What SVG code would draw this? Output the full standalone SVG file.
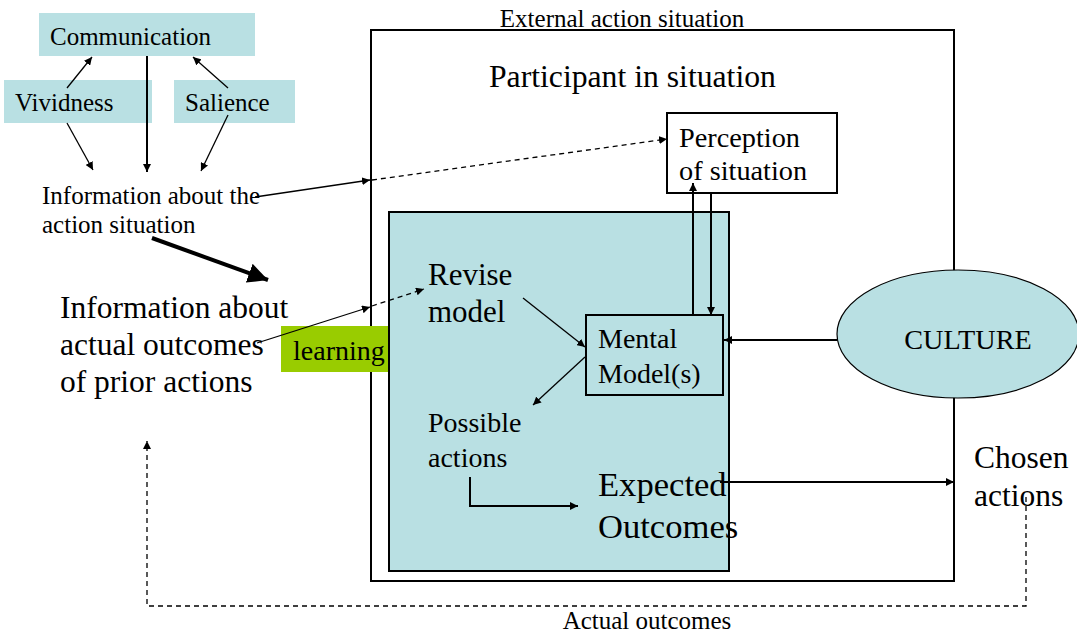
<svg xmlns="http://www.w3.org/2000/svg" width="1077" height="632" viewBox="0 0 1077 632">
<style>
text{font-family:"Liberation Serif","Times New Roman",serif;fill:#000}
.teal{fill:#b9e0e3}
.ln{stroke:#000;stroke-width:1.3;fill:none}
.th{stroke:#000;stroke-width:2;fill:none}
.dash{stroke:#000;stroke-width:1.3;fill:none;stroke-dasharray:5,4}
</style>
<defs>
<marker id="ah" viewBox="0 0 10 10" refX="10" refY="5" markerWidth="8" markerHeight="8" markerUnits="userSpaceOnUse" orient="auto"><path d="M0,0 L10,5 L0,10 z" fill="#000"/></marker>
<marker id="ahk" viewBox="0 0 10 10" refX="10" refY="5" markerWidth="5" markerHeight="5" orient="auto"><path d="M0,0 L10,5 L0,10 z" fill="#000"/></marker>
</defs>
<g id="external">
<rect x="371" y="30" width="583" height="551" fill="#fff" stroke="#000" stroke-width="2"/>
<text x="622" y="27" font-size="25" text-anchor="middle">External action situation</text>
<text x="489" y="87" font-size="31.7">Participant in situation</text>
</g>
<g id="inner">
<rect x="389" y="212" width="340" height="359" class="teal" stroke="#000" stroke-width="2"/>
</g>
<g id="perception">
<rect x="667" y="113" width="170" height="80" fill="#fff" stroke="#000" stroke-width="2"/>
<text x="679" y="147" font-size="28.3">Perception</text>
<text x="679" y="180" font-size="28.3">of situation</text>
</g>
<g id="mental">
<rect x="586" y="315" width="137" height="80" class="teal" stroke="#000" stroke-width="2"/>
<text x="598" y="348" font-size="28">Mental</text>
<text x="598" y="383" font-size="28">Model(s)</text>
</g>
<g id="culture">
<ellipse cx="958" cy="334" rx="121" ry="64" class="teal" stroke="#000" stroke-width="1.2"/>
<text x="968" y="349" font-size="28.2" text-anchor="middle">CULTURE</text>
</g>
<g id="communication">
<rect x="39" y="13" width="216" height="43" class="teal"/>
<text x="50" y="45" font-size="25">Communication</text>
</g>
<g id="vividness">
<rect x="4" y="80" width="148" height="43" class="teal"/>
<text x="15" y="111" font-size="25">Vividness</text>
</g>
<g id="salience">
<rect x="174" y="80" width="121" height="43" class="teal"/>
<text x="185" y="111" font-size="25">Salience</text>
</g>
<g id="learning">
<rect x="281" y="326" width="107" height="46" fill="#99cc00"/>
<text x="293" y="360" font-size="28">learning</text>
</g>
<g id="connectors">
<line x1="67" y1="88" x2="92" y2="57" class="ln" marker-end="url(#ah)"/>
<line x1="228" y1="88" x2="193" y2="57" class="ln" marker-end="url(#ah)"/>
<line x1="147" y1="56" x2="147" y2="172" class="th" marker-end="url(#ah)"/>
<line x1="67" y1="123" x2="93" y2="170" class="ln" marker-end="url(#ah)"/>
<line x1="228" y1="115" x2="201" y2="171" class="ln" marker-end="url(#ah)"/>
<line x1="255" y1="197" x2="370" y2="180" class="ln" marker-end="url(#ah)"/>
<line x1="372" y1="180" x2="667" y2="139" class="dash" marker-end="url(#ah)"/>
<line x1="152" y1="238" x2="268" y2="280" stroke="#000" stroke-width="4" marker-end="url(#ahk)"/>
<line x1="257" y1="343" x2="370" y2="307" class="ln" marker-end="url(#ah)"/>
<line x1="372" y1="306" x2="424" y2="289" class="dash" marker-end="url(#ah)"/>
<line x1="523" y1="298" x2="585" y2="347" class="ln" marker-end="url(#ah)"/>
<line x1="585" y1="357" x2="533" y2="405" class="ln" marker-end="url(#ah)"/>
<line x1="693" y1="315" x2="693" y2="183" class="th" marker-end="url(#ah)"/>
<line x1="711" y1="193" x2="711" y2="315" class="th" marker-end="url(#ah)"/>
<line x1="837" y1="340" x2="724" y2="340" class="th" marker-end="url(#ah)"/>
<polyline points="470,477 470,506 578,506" class="th" marker-end="url(#ah)"/>
<line x1="720" y1="482" x2="954" y2="482" class="th" marker-end="url(#ah)"/>
<polyline points="1026,497 1026,606 147,606 147,441" class="dash" marker-end="url(#ah)"/>
</g>
<g id="texts">
<text x="42" y="204" font-size="25">Information about the</text>
<text x="42" y="233" font-size="25">action situation</text>
<text x="60" y="318" font-size="31.5">Information about</text>
<text x="60" y="355" font-size="31.5">actual outcomes</text>
<text x="60" y="392" font-size="31.5">of prior actions</text>
<text x="428" y="285" font-size="31">Revise</text>
<text x="428" y="322" font-size="31">model</text>
<text x="428" y="432" font-size="28">Possible</text>
<text x="428" y="467" font-size="28">actions</text>
<text x="598" y="496" font-size="34.6">Expected</text>
<text x="598" y="538" font-size="34.6">Outcomes</text>
<text x="974" y="468" font-size="31.5">Chosen</text>
<text x="974" y="506" font-size="31.5">actions</text>
<text x="647" y="629" font-size="25" text-anchor="middle">Actual outcomes</text>
</g>
</svg>
